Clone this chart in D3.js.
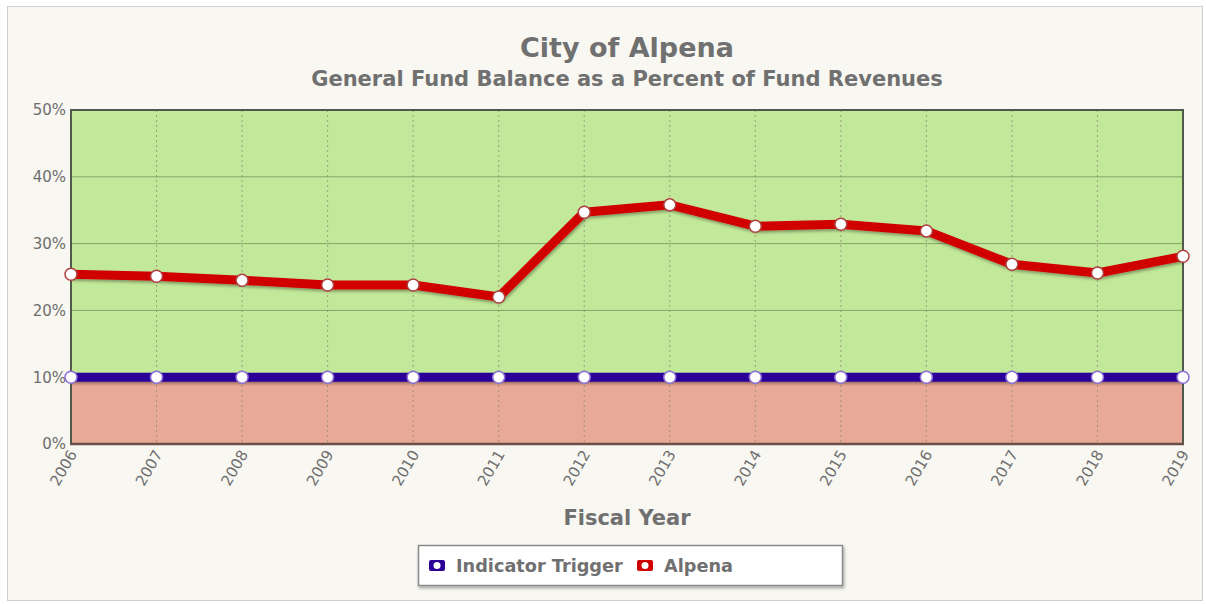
<!DOCTYPE html>
<html>
<head>
<meta charset="utf-8">
<script src="https://cdn.jsdelivr.net/npm/d3@7"></script>
<style>
body{margin:0;background:#fff;}
svg{display:block;}
</style>
</head>
<body>
<div id="chart"></div>
<script>
// values
const years=[2006,2007,2008,2009,2010,2011,2012,2013,2014,2015,2016,2017,2018,2019]
const alpena=[25.4,25.1,24.5,23.8,23.8,22.0,34.7,35.8,32.6,32.9,31.9,26.9,25.6,28.1]
const trigger=[10,10,10,10,10,10,10,10,10,10,10,10,10,10]
const yTicks=[0,10,20,30,40,50]

let W=1206,H=605
let plot={left:71,right:1183,top:110,bottom:444}

var svg=d3.select("#chart").append("svg").attr("width",W).attr("height",H)
	.style("font-family","'DejaVu Sans',sans-serif")

let defs=svg.append("defs")
// userSpaceOnUse so the flat line is not clipped away
let f=defs.append("filter").attr("id","shadow").attr("filterUnits","userSpaceOnUse")
	.attr("x",0).attr("y",0).attr("width",W).attr("height",H)
f.append("feDropShadow").attr("dx",1).attr("dy",2).attr("stdDeviation",1.5).attr("flood-color","#000").attr("flood-opacity",0.35)

// background frame
svg.append("rect").attr("x",7.5).attr("y",6.5).attr("width",1195).attr("height",594)
	.attr("fill","#f8f7f1").attr("stroke","#cfcfcf")

let x=d3.scalePoint().domain(years).range([plot.left,plot.right])
let y=d3.scaleLinear().domain([0,50]).range([plot.bottom,plot.top])

// zones
svg.append("rect").attr("x",plot.left).attr("y",y(50)).attr("width",plot.right-plot.left).attr("height",y(10)-y(50)).attr("fill","#c2e899")
svg.append("rect").attr("x",plot.left).attr("y",y(10)).attr("width",plot.right-plot.left).attr("height",y(0)-y(10)).attr("fill","#e9a997")

// grid
svg.append("g").selectAll("line").data(yTicks.slice(1,-1)).join("line")
	.attr("x1",plot.left).attr("x2",plot.right).attr("y1",d=>y(d)).attr("y2",d=>y(d))
	.attr("stroke","#86a468").attr("stroke-width",1)
svg.append("g").selectAll("line").data(years.slice(1,-1)).join("line")
	.attr("x1",d=>x(d)).attr("x2",d=>x(d)).attr("y1",plot.top).attr("y2",plot.bottom)
	.attr("stroke","#8a8a70").attr("stroke-width",1).attr("stroke-dasharray","2,3").attr("opacity",0.75)

// border
svg.append("rect").attr("x",plot.left).attr("y",plot.top).attr("width",plot.right-plot.left).attr("height",plot.bottom-plot.top)
	.attr("fill","none").attr("stroke","#4f5a4a").attr("stroke-width",2)
svg.append("line").attr("x1",plot.left-1).attr("x2",plot.right+1).attr("y1",plot.bottom).attr("y2",plot.bottom)
	.attr("stroke","#6a4f48").attr("stroke-width",2.5)

// axes
let yAxis=d3.axisLeft(y).tickValues(yTicks).tickFormat(d=>d+"%").tickSize(0).tickPadding(5)
let gy=svg.append("g").attr("transform",`translate(${plot.left},0)`).call(yAxis)
gy.attr("font-size",null).attr("font-family",null)
gy.select(".domain").remove()
gy.selectAll("text").attr("fill","#6e6e6e").style("font-size","15px")

let xAxis=d3.axisBottom(x).tickSize(0).tickPadding(0)
let gx=svg.append("g").attr("transform",`translate(0,${plot.bottom})`).call(xAxis)
gx.attr("font-size",null).attr("font-family",null)
gx.select(".domain").remove()
gx.selectAll("text").attr("fill","#6e6e6e").style("font-size","15px")
	.attr("text-anchor","end").attr("dy",null).attr("y",0)
	.attr("transform","translate(6,10) rotate(-60)")

// lines
let line=d3.line().x((d,i)=>x(years[i])).y(d=>y(d))
function drawSeries(vals,color,ring)
{
	let g=svg.append("g")
	g.append("path").datum(vals).attr("d",line).attr("fill","none")
		.attr("stroke",color).attr("stroke-width",9).attr("stroke-linejoin","round")
		.attr("filter","url(#shadow)")
	g.selectAll("circle").data(vals).join("circle")
		.attr("cx",(d,i)=>x(years[i])).attr("cy",d=>y(d)).attr("r",6)
		.attr("fill","#fff").attr("stroke",ring).attr("stroke-width",1.5)
}
drawSeries(trigger,"#2b0099","#8c6ed8")
drawSeries(alpena,"#d10000","#b04040")

// titles
svg.append("text").attr("x",627).attr("y",57).attr("text-anchor","middle")
	.attr("fill","#707070").style("font-size","27px").style("font-weight","bold").text("City of Alpena")
svg.append("text").attr("x",627).attr("y",86).attr("text-anchor","middle")
	.attr("fill","#707070").style("font-size","21px").style("font-weight","bold").text("General Fund Balance as a Percent of Fund Revenues")
svg.append("text").attr("x",627).attr("y",525).attr("text-anchor","middle")
	.attr("fill","#707070").style("font-size","21px").style("font-weight","bold").text("Fiscal Year")

// legend
let lg=svg.append("g")
lg.append("rect").attr("x",418.5).attr("y",545.5).attr("width",424).attr("height",40)
	.attr("fill","#fff").attr("stroke","#8a8a8a").attr("stroke-width",1.5).attr("filter","url(#shadow)")
let items=[{name:"Indicator Trigger",color:"#2b0099",x:437},{name:"Alpena",color:"#d10000",x:645}]
items.forEach(it=>{
	lg.append("rect").attr("x",it.x-8).attr("y",560).attr("width",16).attr("height",11).attr("rx",2).attr("fill",it.color)
	lg.append("circle").attr("cx",it.x).attr("cy",565.5).attr("r",3.5).attr("fill","#fff")
	lg.append("text").attr("x",it.x+19).attr("y",572).attr("fill","#707070")
		.style("font-size","17.7px").style("font-weight","bold").text(it.name)
})
</script>
</body>
</html>
